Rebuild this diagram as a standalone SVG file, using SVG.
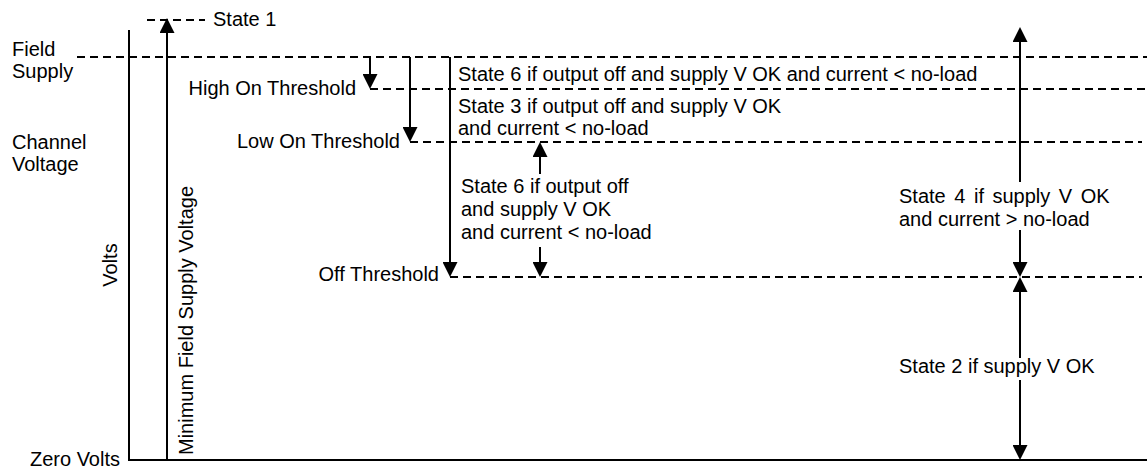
<svg xmlns="http://www.w3.org/2000/svg" width="1147" height="468" viewBox="0 0 1147 468">
<style>
text{font-family:"Liberation Sans",Arial,sans-serif;font-size:20px;fill:#000}
.s{fill:none;stroke:#000;stroke-width:2}
.d{fill:none;stroke:#000;stroke-width:2;stroke-dasharray:8 5}
.a{marker-end:url(#ah)}
.b{marker-start:url(#ah);marker-end:url(#ah)}
.bg{fill:#fff}
</style>
<defs>
<marker id="ah" viewBox="0 0 15 15" refX="11" refY="7.5" markerWidth="15" markerHeight="15" markerUnits="userSpaceOnUse" orient="auto-start-reverse">
<path d="M0,0 L15,7.5 L0,15 Z" fill="#000"/>
</marker>
</defs>
<g id="connectors">
<path class="s" d="M129 30 V460 H1147"/>
<path class="d" d="M77 57 H1147"/>
<path class="d" d="M147 20 H205"/>
<path class="d" d="M370 89 H1147"/>
<path class="d" d="M410 142 H1142"/>
<path class="d" d="M450 277 H1142"/>
<path class="s a" d="M167 460 V22"/>
<path class="s a" d="M370 57 V85"/>
<path class="s a" d="M410 57 V138"/>
<path class="s a" d="M450 57 V273"/>
<path class="s a" d="M540 174 V146"/>
<path class="s a" d="M540 247 V273"/>
<path class="s b" d="M1020 273 V31"/>
<path class="s b" d="M1020 281 V456"/>
</g>
<g id="axis-labels">
<text x="12" y="56">Field</text>
<text x="12" y="78">Supply</text>
<text x="12" y="149">Channel</text>
<text x="12" y="171">Voltage</text>
<text x="120" y="466" text-anchor="end">Zero Volts</text>
<text x="117" y="265" text-anchor="middle" transform="rotate(-90 117 265)">Volts</text>
<text x="193" y="455" transform="rotate(-90 193 455)">Minimum Field Supply Voltage</text>
</g>
<g id="thresholds">
<text x="213" y="26">State 1</text>
<text x="356" y="95" text-anchor="end">High On Threshold</text>
<text x="400" y="148" text-anchor="end">Low On Threshold</text>
<text x="439" y="281" text-anchor="end">Off Threshold</text>
</g>
<g id="state6-top">
<text x="458" y="81">State 6 if output off and supply V OK and current &lt; no-load</text>
</g>
<g id="state3">
<text x="458" y="112.5">State 3 if output off and supply V OK</text>
<text x="458" y="135">and current &lt; no-load</text>
</g>
<g id="state6-mid">
<text x="461" y="193">State 6 if output off</text>
<text x="461" y="216">and supply V OK</text>
<text x="461" y="239">and current &lt; no-load</text>
</g>
<g id="state4">
<rect class="bg" x="895" y="182" width="218" height="48"/>
<text x="899" y="203" word-spacing="3">State 4 if supply V OK</text>
<text x="899" y="225.5">and current &gt; no-load</text>
</g>
<g id="state2">
<rect class="bg" x="896" y="358" width="204" height="22"/>
<text x="899" y="373">State 2 if supply V OK</text>
</g>
</svg>
